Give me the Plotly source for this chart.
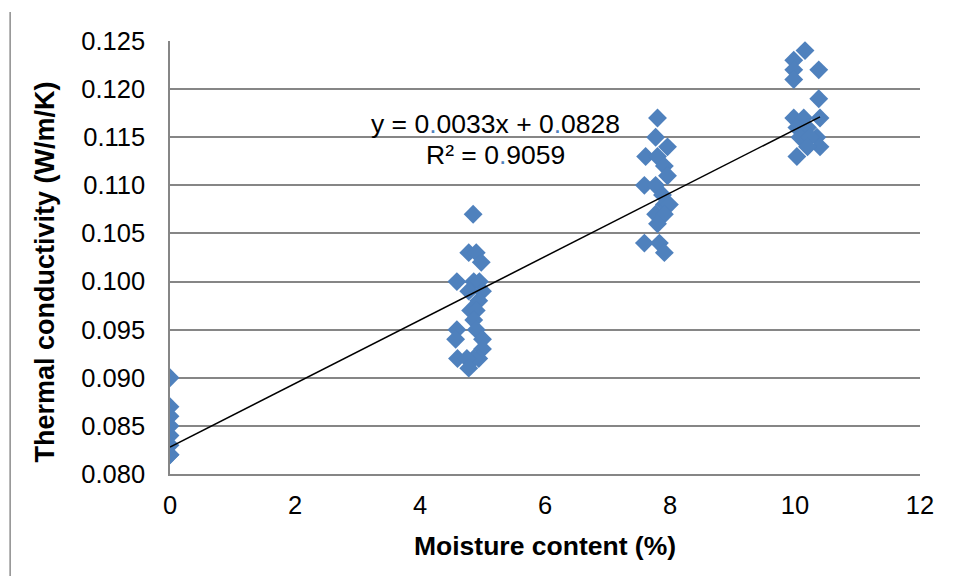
import plotly.graph_objects as go

# Measured data (moisture content %, thermal conductivity W/m/K)
moisture = [
    0, 0, 0, 0, 0, 0, 0, 0,
    4.85, 4.78, 4.90, 4.98, 4.59, 4.86, 4.95, 4.78, 5.00, 4.94, 4.81, 4.90,
    4.86, 4.90, 4.59, 4.57, 5.00, 5.00, 4.60, 4.94, 4.86, 4.75, 4.78,
    7.80, 7.77, 7.96, 7.61, 7.80, 7.91, 7.96, 7.59, 7.77, 7.88, 7.91, 7.99,
    7.77, 7.91, 7.80, 7.59, 7.83, 7.91,
    10.16, 9.98, 9.98, 10.38, 9.98, 10.38, 9.98, 10.14, 10.40, 10.03, 10.20,
    10.35, 10.08, 10.24, 10.40, 10.20, 10.03,
]
conductivity = [
    0.090, 0.087, 0.086, 0.085, 0.084, 0.083, 0.082, 0.082,
    0.107, 0.103, 0.103, 0.102, 0.100, 0.100, 0.100, 0.099, 0.099, 0.098, 0.097, 0.097,
    0.096, 0.095, 0.095, 0.094, 0.094, 0.093, 0.092, 0.092, 0.092, 0.092, 0.091,
    0.117, 0.115, 0.114, 0.113, 0.113, 0.112, 0.111, 0.110, 0.110, 0.109, 0.108, 0.108,
    0.107, 0.107, 0.106, 0.104, 0.104, 0.103,
    0.124, 0.123, 0.122, 0.122, 0.121, 0.119, 0.117, 0.117, 0.117, 0.116, 0.116,
    0.115, 0.115, 0.115, 0.114, 0.114, 0.113,
]

# Linear trend line reported on the chart
slope = 0.0033
intercept = 0.0828
r_squared = 0.9059

x_ticks = [0, 2, 4, 6, 8, 10, 12]
y_ticks = [0.080, 0.085, 0.090, 0.095, 0.100, 0.105, 0.110, 0.115, 0.120, 0.125]

x_title = "Moisture content (%)"
y_title = "Thermal conductivity (W/m/K)"

blue = "#4F81BD"
grid = "#868686"
font_family = "Arial, 'Liberation Sans', sans-serif"

trend_x = [0, max(moisture)]
trend_y = [slope * v + intercept for v in trend_x]

fig = go.Figure()
fig.add_trace(go.Scatter(
    x=moisture, y=conductivity, mode="markers",
    marker=dict(symbol="diamond", size=14.5, color=blue, line=dict(width=0)),
    showlegend=False, hoverinfo="x+y",
))
fig.add_trace(go.Scatter(
    x=trend_x, y=trend_y, mode="lines",
    line=dict(color="black", width=1.5),
    showlegend=False, hoverinfo="skip",
))

dot = f"<span style='color:{blue}'>.</span>"
eq_line1 = f"y = 0{dot}{str(slope).split('.')[1]}x + 0{dot}{str(intercept).split('.')[1]}"
eq_line2 = f"R² = 0{dot}{str(r_squared).split('.')[1]}"

fig.add_annotation(
    x=5.21, y=0.11635, xref="x", yref="y", text=eq_line1, showarrow=False,
    font=dict(family=font_family, size=26.5, color="black"), xanchor="center", yanchor="middle",
)
fig.add_annotation(
    x=5.21, y=0.11313, xref="x", yref="y", text=eq_line2, showarrow=False,
    font=dict(family=font_family, size=26.5, color="black"), xanchor="center", yanchor="middle",
)

# page body has an 8px margin on every side; size the figure to fit the window
W, H = 938, 572
ML, MR, MT, MB = 162, 23, 33, 106
pw, ph = W - ML - MR, H - MT - MB


def px_to_paper_x(page_x):
    return (page_x - 8 - ML) / pw


def px_to_paper_y(page_y):
    return (H - MB - (page_y - 8)) / ph


# axis titles placed as annotations (Excel offsets the y title below centre)
fig.add_annotation(
    x=px_to_paper_x(45), y=px_to_paper_y(272), xref="paper", yref="paper",
    text=f"<b>{y_title}</b>", textangle=-90, showarrow=False,
    font=dict(family=font_family, size=27, color="black"), xanchor="center", yanchor="middle",
)
fig.add_annotation(
    x=px_to_paper_x(546), y=px_to_paper_y(546), xref="paper", yref="paper",
    text=f"<b>{x_title}</b>", showarrow=False,
    font=dict(family=font_family, size=26.5, color="black"), xanchor="center", yanchor="middle",
)

# outer chart border: only the left edge, as a single vertical line
bx = px_to_paper_x(9.5)
fig.add_shape(type="line", xref="paper", yref="paper",
              x0=bx, y0=px_to_paper_y(12), x1=bx, y1=px_to_paper_y(576),
              line=dict(color="#8c8c8c", width=1.5))

fig.update_layout(
    width=W, height=H,
    margin=dict(l=ML, r=MR, t=MT, b=MB),
    paper_bgcolor="white", plot_bgcolor="white",
    font=dict(family=font_family, color="black"),
    xaxis=dict(
        range=[0, 12], tickvals=x_ticks, ticktext=[str(v) for v in x_ticks],
        showgrid=False, zeroline=False, showline=True, linecolor=grid, linewidth=1.5,
        ticks="", tickfont=dict(size=25.5), ticklabelstandoff=8,
    ),
    yaxis=dict(
        range=[0.080, 0.125], tickvals=y_ticks, ticktext=[f"{v:.3f}" for v in y_ticks],
        showgrid=True, gridcolor=grid, gridwidth=1.5, zeroline=False,
        showline=True, linecolor=grid, linewidth=1.5,
        ticks="", tickfont=dict(size=25.5), ticklabelstandoff=18,
    ),
)

fig.write_html("out.html")
